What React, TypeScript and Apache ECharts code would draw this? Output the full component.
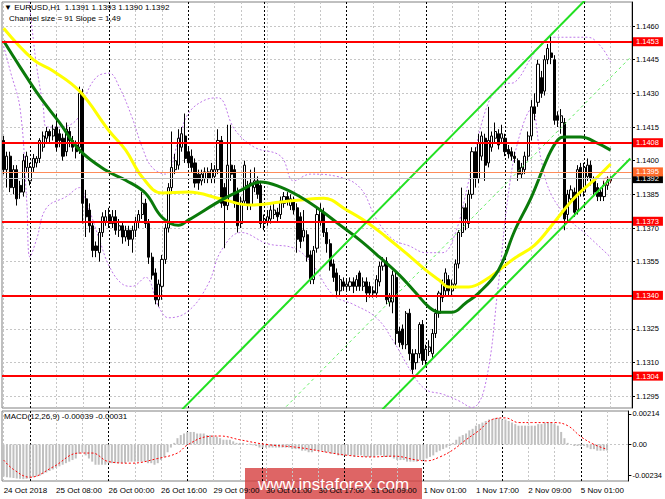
import React, { useEffect, useRef } from "react";
import * as echarts from "echarts";

// ---------- data ----------
const BAR_SLOTS = 191; // bars plus empty right margin (chart shift)
const CATEGORIES = Array.from({ length: BAR_SLOTS }, (_, i) => String(i));

const X_TICK_INDEX = [0, 16, 32, 48, 64, 80, 96, 112, 128, 144, 160, 176];
const X_TICK_TEXT = [
  "24 Oct 2018", "25 Oct 08:00", "26 Oct 00:00", "26 Oct 16:00", "29 Oct 09:00", "30 Oct 01:00",
  "30 Oct 17:00", "31 Oct 09:00", "1 Nov 01:00", "1 Nov 17:00", "2 Nov 09:00", "5 Nov 01:00",
];
const GRID_COLS = [0, 8, 16, 24, 32, 40, 48, 56, 64, 72, 80, 88, 96, 104, 112, 120, 128, 136, 144, 152, 160, 168, 176, 184];
const DAY_SEPARATORS = [8, 32, 56, 79, 104, 128, 152, 176];

const Y_MIN = 1.12898;
const Y_MAX = 1.14707;
const PRICE_TICKS = [1.1295, 1.131, 1.1325, 1.134, 1.1355, 1.137, 1.1385, 1.14, 1.1415, 1.143, 1.1445, 1.146];
const LEVELS = [1.1453, 1.1408, 1.1373, 1.134, 1.1304];
const ASK = 1.1395;
const BID = 1.1392;

// [open, close, low, high]
const CANDLES = [
  [1.1409, 1.1396, 1.1394, 1.1411], [1.1396, 1.1402, 1.1388, 1.1404], [1.1402, 1.1388, 1.1386, 1.1404], [1.1388, 1.1396, 1.1385, 1.1398],
  [1.1396, 1.1383, 1.138, 1.1398], [1.1389, 1.1386, 1.1383, 1.1391], [1.1386, 1.14, 1.1384, 1.1403], [1.1397, 1.1402, 1.1395, 1.1404],
  [1.1391, 1.1397, 1.1389, 1.1399], [1.1397, 1.1401, 1.1395, 1.1403], [1.1399, 1.1401, 1.1397, 1.1402], [1.1401, 1.1409, 1.1399, 1.141],
  [1.1406, 1.1411, 1.1404, 1.1413], [1.141, 1.1413, 1.1408, 1.1415], [1.1413, 1.1411, 1.1408, 1.1414], [1.1411, 1.1414, 1.1409, 1.1416],
  [1.1415, 1.1406, 1.1404, 1.1421], [1.1412, 1.1409, 1.1406, 1.1414], [1.141, 1.1402, 1.14, 1.1412], [1.1404, 1.1414, 1.1402, 1.1417],
  [1.1413, 1.1409, 1.1406, 1.1415], [1.1409, 1.1406, 1.1404, 1.1411], [1.1407, 1.1404, 1.1401, 1.1409], [1.1406, 1.143, 1.1403, 1.1433],
  [1.143, 1.1381, 1.1372, 1.1432], [1.1383, 1.1375, 1.1366, 1.1387], [1.1378, 1.1371, 1.1368, 1.1381], [1.1371, 1.136, 1.1357, 1.1373],
  [1.1362, 1.136, 1.1357, 1.1364], [1.1359, 1.1368, 1.1355, 1.137], [1.1368, 1.1375, 1.1366, 1.1377], [1.1373, 1.1375, 1.1371, 1.1378],
  [1.1376, 1.1372, 1.137, 1.1379], [1.1372, 1.1375, 1.137, 1.1378], [1.1375, 1.1369, 1.1367, 1.1378], [1.1369, 1.1371, 1.1366, 1.1374],
  [1.1371, 1.1366, 1.1363, 1.1373], [1.1366, 1.1369, 1.1364, 1.1371], [1.1369, 1.1365, 1.1362, 1.1371], [1.1365, 1.1369, 1.1359, 1.1371],
  [1.1369, 1.1373, 1.1366, 1.1375], [1.1373, 1.1376, 1.137, 1.1378], [1.1376, 1.1381, 1.1374, 1.1386], [1.1381, 1.1372, 1.137, 1.1383],
  [1.1372, 1.1357, 1.1354, 1.1374], [1.1357, 1.1349, 1.1347, 1.1359], [1.135, 1.1338, 1.1336, 1.1352], [1.1338, 1.1345, 1.1335, 1.1347],
  [1.1344, 1.1356, 1.1338, 1.1358], [1.1356, 1.137, 1.1354, 1.1372], [1.137, 1.1388, 1.1368, 1.139], [1.1388, 1.1397, 1.1386, 1.1413],
  [1.1396, 1.14, 1.1394, 1.1403], [1.1398, 1.141, 1.1396, 1.1414], [1.1406, 1.1412, 1.1404, 1.1415], [1.1411, 1.1401, 1.1399, 1.1421],
  [1.1404, 1.1399, 1.1397, 1.1406], [1.1402, 1.1397, 1.1395, 1.1405], [1.1399, 1.139, 1.1388, 1.1401], [1.1394, 1.139, 1.1387, 1.1396],
  [1.1391, 1.1394, 1.1389, 1.1396], [1.1392, 1.1395, 1.139, 1.1397], [1.1395, 1.1392, 1.139, 1.1397], [1.1392, 1.1396, 1.139, 1.1399],
  [1.1393, 1.1396, 1.139, 1.1398], [1.1396, 1.1409, 1.1394, 1.1414], [1.1409, 1.1381, 1.1379, 1.1411], [1.1388, 1.138, 1.1361, 1.139],
  [1.138, 1.1398, 1.1378, 1.1416], [1.1398, 1.1394, 1.1391, 1.1416], [1.1396, 1.1381, 1.1379, 1.1398], [1.1386, 1.1371, 1.1368, 1.1388],
  [1.1372, 1.1382, 1.137, 1.1384], [1.1382, 1.1398, 1.138, 1.14], [1.1389, 1.138, 1.1378, 1.1391], [1.138, 1.139, 1.1378, 1.1396],
  [1.1388, 1.1391, 1.1386, 1.1397], [1.1391, 1.1385, 1.1383, 1.1393], [1.1389, 1.1372, 1.137, 1.1391], [1.1372, 1.1374, 1.1369, 1.1376],
  [1.1373, 1.1375, 1.1371, 1.1378], [1.1374, 1.1378, 1.1372, 1.138], [1.1376, 1.1378, 1.1374, 1.1381], [1.1377, 1.1375, 1.1373, 1.1379],
  [1.1376, 1.1382, 1.1374, 1.1384], [1.1381, 1.1384, 1.1379, 1.1386], [1.1384, 1.1382, 1.138, 1.1386], [1.138, 1.1383, 1.1378, 1.1385],
  [1.1382, 1.1378, 1.1376, 1.1384], [1.1379, 1.1365, 1.1359, 1.1381], [1.1375, 1.1364, 1.1361, 1.1377], [1.1366, 1.1369, 1.1364, 1.1378],
  [1.1367, 1.1357, 1.1355, 1.1369], [1.1358, 1.1347, 1.1345, 1.136], [1.1347, 1.136, 1.1345, 1.1362], [1.1361, 1.1376, 1.1359, 1.1379],
  [1.1373, 1.1378, 1.1371, 1.1381], [1.1377, 1.1368, 1.1366, 1.1379], [1.1368, 1.1363, 1.1359, 1.137], [1.1363, 1.1353, 1.1351, 1.1365],
  [1.1354, 1.1348, 1.1346, 1.1356], [1.135, 1.1342, 1.134, 1.1352], [1.1342, 1.1347, 1.134, 1.1349], [1.1346, 1.1344, 1.1342, 1.1348],
  [1.1344, 1.1345, 1.1342, 1.1347], [1.1344, 1.1346, 1.1342, 1.1348], [1.1346, 1.1344, 1.1341, 1.1348], [1.1344, 1.1347, 1.1342, 1.1349],
  [1.135, 1.1344, 1.1342, 1.1351], [1.1344, 1.1346, 1.1342, 1.1348], [1.1346, 1.1341, 1.1337, 1.1348], [1.1344, 1.1341, 1.1339, 1.1346],
  [1.1342, 1.1341, 1.1339, 1.1344], [1.1341, 1.1347, 1.1339, 1.1349], [1.1346, 1.1353, 1.1344, 1.1355], [1.1353, 1.1355, 1.1351, 1.1357],
  [1.1355, 1.1338, 1.1336, 1.1357], [1.1337, 1.1339, 1.1335, 1.1341], [1.1337, 1.1349, 1.1332, 1.1351], [1.1348, 1.1323, 1.1318, 1.135],
  [1.1324, 1.1319, 1.1317, 1.1326], [1.1325, 1.1318, 1.1316, 1.1327], [1.1318, 1.1332, 1.1316, 1.1333], [1.1332, 1.1314, 1.1311, 1.1334],
  [1.1314, 1.1307, 1.1305, 1.1316], [1.131, 1.1314, 1.1307, 1.1316], [1.1314, 1.1327, 1.1312, 1.1328], [1.1327, 1.1311, 1.1309, 1.1329],
  [1.1311, 1.1316, 1.1308, 1.1318], [1.1315, 1.1317, 1.1313, 1.132], [1.1314, 1.1323, 1.1312, 1.1325], [1.1323, 1.1332, 1.1321, 1.1334],
  [1.1332, 1.1341, 1.133, 1.1342], [1.1339, 1.1345, 1.1337, 1.1347], [1.1342, 1.135, 1.134, 1.1352], [1.1347, 1.1342, 1.134, 1.1349],
  [1.1342, 1.1345, 1.134, 1.1347], [1.1345, 1.1354, 1.1343, 1.1356], [1.1354, 1.1368, 1.1352, 1.1369], [1.1368, 1.1379, 1.1366, 1.1388],
  [1.1379, 1.1374, 1.1369, 1.1381], [1.1372, 1.1385, 1.137, 1.1387], [1.1385, 1.1404, 1.1383, 1.1406], [1.1404, 1.1392, 1.1388, 1.1406],
  [1.1392, 1.1408, 1.139, 1.1412], [1.1402, 1.1411, 1.14, 1.1413], [1.141, 1.1398, 1.1391, 1.1412], [1.1399, 1.1409, 1.1397, 1.1424],
  [1.1406, 1.1411, 1.1404, 1.1413], [1.141, 1.1413, 1.1408, 1.1417], [1.1412, 1.1407, 1.1405, 1.1414], [1.141, 1.1412, 1.1408, 1.1416],
  [1.141, 1.1404, 1.1402, 1.1412], [1.1405, 1.1403, 1.1401, 1.1407], [1.1404, 1.1402, 1.14, 1.1406], [1.1402, 1.1401, 1.1399, 1.1404],
  [1.14, 1.1394, 1.1391, 1.1401], [1.1394, 1.1397, 1.1392, 1.1399], [1.1396, 1.1402, 1.1394, 1.1404], [1.1402, 1.1411, 1.14, 1.1413],
  [1.1411, 1.1424, 1.1409, 1.1427], [1.1424, 1.1421, 1.1418, 1.143], [1.1426, 1.1443, 1.1424, 1.1445], [1.1437, 1.143, 1.1428, 1.144],
  [1.1431, 1.1445, 1.1429, 1.1447], [1.1445, 1.145, 1.1443, 1.1452], [1.1448, 1.1446, 1.1443, 1.1456], [1.1445, 1.1418, 1.1416, 1.1447],
  [1.142, 1.1418, 1.1415, 1.1422], [1.1417, 1.142, 1.1412, 1.1423], [1.1417, 1.1374, 1.1369, 1.1419], [1.1376, 1.1385, 1.1373, 1.1387],
  [1.1383, 1.1387, 1.1381, 1.1389], [1.1386, 1.1377, 1.1375, 1.1388], [1.1378, 1.1396, 1.1376, 1.1398], [1.1397, 1.1386, 1.1384, 1.1399],
  [1.1386, 1.1397, 1.1384, 1.1399], [1.1393, 1.1398, 1.1391, 1.1401], [1.1398, 1.1392, 1.1389, 1.14], [1.1391, 1.1386, 1.1384, 1.1393],
  [1.1388, 1.1384, 1.1382, 1.139], [1.1386, 1.1384, 1.1382, 1.1388], [1.1384, 1.1389, 1.1382, 1.1391], [1.1389, 1.1391, 1.1387, 1.1393],
  [1.1391, 1.1392, 1.139, 1.1393],
];

// moving averages, read at points along the curves: [bar index, price]
const YELLOW_MA = [
  [0, 1.1459], [9, 1.1445], [15, 1.144], [23, 1.1431], [32, 1.14132], [37, 1.14047], [42, 1.13927], [48, 1.13856],
  [56, 1.1386], [66, 1.13829], [75, 1.13802], [84, 1.13816], [90, 1.13825], [97, 1.13833], [104, 1.1378], [110, 1.13727],
  [116, 1.1366], [122, 1.13588], [128, 1.13512], [132, 1.13468], [135, 1.13437], [141, 1.13437], [146, 1.13468],
  [155, 1.13566], [161, 1.13624], [167, 1.13727], [173, 1.13834], [180, 1.13927], [184, 1.13985],
];
const GREEN_MA = [
  [0, 1.14533], [5, 1.14417], [11, 1.14284], [17, 1.14168], [23, 1.14047], [31, 1.13957], [37, 1.13913], [43, 1.13855],
  [48, 1.13748], [53, 1.13712], [56, 1.13735], [66, 1.13824], [72, 1.13869], [78, 1.13905], [84, 1.13882], [90, 1.13838],
  [96, 1.1378], [102, 1.13713], [108, 1.13646], [114, 1.1357], [120, 1.1349], [125, 1.1341], [129, 1.13347], [132, 1.13325],
  [136, 1.13325], [140, 1.13365], [144, 1.1341], [150, 1.13512], [155, 1.1369], [160, 1.13838], [165, 1.14016],
  [168, 1.14092], [170, 1.14105], [175, 1.14105], [180, 1.14078], [184, 1.14047],
];
const UPPER_BAND = [
  [7, 1.148], [9, 1.1454], [10, 1.1442], [12, 1.1424], [13, 1.1415], [17, 1.1415], [22, 1.1418], [24, 1.1426], [28, 1.1437],
  [32, 1.1439], [35, 1.1433], [39, 1.1419], [42, 1.1406], [45, 1.1397], [49, 1.1394], [53, 1.1409], [56, 1.1421],
  [61, 1.1427], [65, 1.1428], [70, 1.1414], [76, 1.1406], [84, 1.1402], [88, 1.1391], [93, 1.1394], [101, 1.1393],
  [108, 1.1388], [113, 1.1374], [118, 1.1365], [123, 1.1362], [128, 1.1359], [133, 1.1359], [137, 1.1368],
  [141, 1.1391], [147, 1.1426], [152, 1.1434], [155, 1.1435], [160, 1.1446], [163, 1.1452], [167, 1.1455], [177, 1.1455],
  [181, 1.1451], [184, 1.1444],
];
const LOWER_BAND = [
  [0, 1.1451], [2, 1.144], [5, 1.1423], [7, 1.1382], [8, 1.1357], [10, 1.1365], [13, 1.1379], [19, 1.1384],
  [23, 1.1388], [25, 1.1382], [29, 1.1365], [32, 1.1353], [36, 1.1345], [39, 1.1344], [43, 1.1348], [47, 1.1335],
  [50, 1.133], [56, 1.1333], [62, 1.1345], [66, 1.136], [72, 1.1368], [80, 1.1363], [88, 1.1361], [93, 1.1355],
  [100, 1.134], [106, 1.1336], [113, 1.133], [118, 1.132], [124, 1.1305], [128, 1.1298], [133, 1.1296],
  [138, 1.1293], [142, 1.129], [146, 1.13], [150, 1.1345], [153, 1.1385], [156, 1.1409], [160, 1.1423],
  [163, 1.14], [166, 1.1385], [172, 1.1373], [176, 1.1368], [184, 1.1357],
];

// regression channel lines (end points)
const CHANNEL_UPPER = [[50, 1.1283], [190, 1.1492]];
const CHANNEL_MIDDLE = [[78, 1.1279], [190, 1.1446]];
const CHANNEL_LOWER = [[110, 1.1282], [190, 1.1401]];
const MARKER_POINT = [[183, 1.1391]];

// MACD(12,26,9): main values (histogram) per bar and signal line points
const MACD_MIN = -0.00234;
const MACD_MAX = 0.00214;
const MACD_HIST = [
  -0.00205, -0.0021, -0.00212, -0.00215, -0.00218, -0.0022, -0.00222, -0.0022, -0.00218, -0.0021,
  -0.00205, -0.002, -0.0019, -0.0018, -0.0017, -0.0016, -0.0015, -0.0014, -0.0013, -0.0012,
  -0.0011, -0.001, -0.0009, -0.0006, -0.0005, -0.0007, -0.0009, -0.0011, -0.0013, -0.0013,
  -0.0013, -0.0013, -0.0012, -0.0012, -0.0012, -0.0012, -0.0012, -0.0012, -0.0011, -0.0011,
  -0.0011, -0.0011, -0.0011, -0.0011, -0.0012, -0.0012, -0.0013, -0.0012, -0.001, -0.0008,
  -0.0005, -0.0002, 0.0001, 0.0004, 0.0006, 0.0007, 0.0008, 0.0008, 0.0008, 0.0007,
  0.0007, 0.0007, 0.0006, 0.0006, 0.0005, 0.0005, 0.0004, 0.0003, 0.0003, 0.0003,
  0.0002, 0.0001, 0.0001, 0.0001, 0.0, 0.00005, -0.00005, -0.0001, -0.0002, -0.0002,
  -0.0002, -0.0002, -0.0002, -0.0002, -0.0002, -0.0002, -0.0002, -0.0002, -0.0003, -0.0003,
  -0.0003, -0.0004, -0.0004, -0.0005, -0.0005, -0.0004, -0.0004, -0.0004, -0.0005, -0.0005,
  -0.0006, -0.0006, -0.0007, -0.0007, -0.0007, -0.0007, -0.0007, -0.0008, -0.0007, -0.0007,
  -0.0008, -0.0008, -0.0008, -0.0008, -0.0007, -0.0007, -0.0008, -0.0008, -0.0008, -0.0009,
  -0.001, -0.001, -0.001, -0.0011, -0.0011, -0.0011, -0.0011, -0.001, -0.001, -0.0009,
  -0.0008, -0.0007, -0.0005, -0.0004, -0.0003, -0.0002, -0.0001, 0.0001, 0.0003, 0.0005,
  0.0006, 0.0007, 0.0009, 0.001, 0.0012, 0.0013, 0.0014, 0.0015, 0.0016, 0.0016,
  0.0017, 0.0017, 0.0016, 0.0016, 0.0015, 0.0014, 0.0013, 0.0012, 0.0012, 0.0012,
  0.0012, 0.0012, 0.0012, 0.0013, 0.0013, 0.0014, 0.0014, 0.0014, 0.0013, 0.0012,
  0.0008, 0.0004, 0.0001, 0.0, -0.0001, -0.0001, -0.0001, -0.0001, -0.0002, -0.0003,
  -0.0003, -0.0004, -0.0004, -0.0004, -0.00039,
];
const MACD_SIGNAL = [
  [0, -0.001], [3, -0.0016], [8, -0.0021], [15, -0.00145], [23, -0.00055], [27, -0.00055], [32, -0.0011],
  [39, -0.0012], [47, -0.0009], [53, -0.00055], [56, -0.00004], [62, 0.0005], [66, 0.00054], [72, 0.0003],
  [80, 0.0], [90, -0.0002], [100, -0.00055], [105, -0.0007], [112, -0.0008], [119, -0.00075], [126, -0.001],
  [129, -0.00105], [133, -0.0008], [137, -0.00035], [141, 0.0003], [145, 0.0009], [149, 0.0016], [153, 0.0017],
  [157, 0.0014], [161, 0.0014], [168, 0.0014], [172, 0.0012], [176, 0.0005], [180, 0.0], [184, -0.00031],
];
const MACD_LABEL_POS = [0.00195, 0, -0.00196];
const MACD_LABEL_TEXT = ["0.00214", "0.00", "-0.00234"];

const HEADER = "\u25BC EURUSD,H1  1.1391 1.1393 1.1390 1.1392";
const SUBHEADER = "Channel size = 91 Slope = 1,49";
const MACD_TITLE = "MACD(12,26,9) -0.00039 -0.00031";
const WATERMARK = "www.instaforex.com";

const FONT = '"Liberation Sans", Arial, sans-serif';

export default function App() {
  const ref = useRef<HTMLDivElement>(null);

  useEffect(() => {
    if (!ref.current) return;
    const chart = echarts.init(ref.current, undefined, { renderer: "svg" });

    const gridGray = { color: "#c6c6c6", type: [2, 2] as any, width: 1 };
    const sepBlack = { color: "#000000", type: [2, 2] as any, width: 1 };

    const vLines = (idx: number[], style: any) =>
      idx.map((i) => ({ xAxis: i, lineStyle: style }));

    const levelLabel = (bg: string) => ({
      show: true,
      position: "end",
      distance: 1,
      formatter: (p: any) => Number(p.value).toFixed(4),
      color: "#ffffff",
      backgroundColor: bg,
      padding: [1, 4, 0, 3],
      fontSize: 7.5,
      fontFamily: FONT,
    });

    const option: any = {
      animation: false,
      backgroundColor: "#ffffff",
      textStyle: { fontFamily: FONT },
      grid: [
        { left: 2, top: 2, width: 630, height: 406, show: true, borderColor: "#808080", borderWidth: 1 },
        { left: 2, top: 411, width: 630, height: 70, show: true, borderColor: "#808080", borderWidth: 1 },
      ],
      xAxis: [
        {
          type: "category", gridIndex: 0, data: CATEGORIES, boundaryGap: true,
          axisLine: { show: false }, axisTick: { show: false }, axisLabel: { show: false }, splitLine: { show: false },
        },
        {
          type: "category", gridIndex: 1, data: CATEGORIES, boundaryGap: true,
          axisLine: { show: false }, axisTick: { show: false }, splitLine: { show: false },
          axisLabel: {
            show: true,
            interval: (i: number) => X_TICK_INDEX.includes(i),
            formatter: (_v: string, i: number) => {
              const k = X_TICK_INDEX.indexOf(i);
              return k >= 0 ? X_TICK_TEXT[k] : "";
            },
            align: "left", color: "#000", fontSize: 8, margin: 5, fontFamily: FONT,
          },
        },
      ],
      yAxis: [
        {
          type: "value", gridIndex: 0, position: "right", min: Y_MIN, max: Y_MAX,
          axisLine: { show: true, lineStyle: { color: "#000", width: 1 } },
          axisTick: { show: true, length: 3, customValues: PRICE_TICKS, lineStyle: { color: "#000" } },
          axisLabel: { customValues: PRICE_TICKS, formatter: (v: number) => v.toFixed(4), color: "#000", fontSize: 7.5, margin: 4, fontFamily: FONT },
          splitLine: { show: false },
        },
        {
          type: "value", gridIndex: 1, position: "right", min: MACD_MIN, max: MACD_MAX,
          axisLine: { show: true, lineStyle: { color: "#000", width: 1 } },
          axisTick: { show: true, length: 3, customValues: MACD_LABEL_POS, lineStyle: { color: "#000" } },
          axisLabel: {
            customValues: MACD_LABEL_POS,
            formatter: (v: number) => {
              const k = MACD_LABEL_POS.findIndex((p) => Math.abs(p - v) < 1e-7);
              return k >= 0 ? MACD_LABEL_TEXT[k] : "";
            },
            color: "#000", fontSize: 7.5, margin: 4, fontFamily: FONT,
          },
          splitLine: { show: false },
        },
      ],
      series: [
        // grid lines, main panel
        {
          type: "line", xAxisIndex: 0, yAxisIndex: 0, data: [], silent: true,
          markLine: {
            z: 1, silent: true, precision: 6, symbol: ["none", "none"], label: { show: false },
            data: [
              ...PRICE_TICKS.map((v) => ({ yAxis: v, lineStyle: gridGray })),
              ...vLines(GRID_COLS, gridGray),
              ...vLines(DAY_SEPARATORS, sepBlack),
            ],
          },
        },
        // grid lines, MACD panel
        {
          type: "line", xAxisIndex: 1, yAxisIndex: 1, data: [], silent: true,
          markLine: {
            z: 1, silent: true, precision: 6, symbol: ["none", "none"], label: { show: false },
            data: [
              { yAxis: 0, lineStyle: gridGray },
              ...vLines(GRID_COLS, gridGray),
              ...vLines(DAY_SEPARATORS, sepBlack),
            ],
          },
        },
        // envelopes / bands
        {
          type: "line", xAxisIndex: 0, yAxisIndex: 0, data: UPPER_BAND, smooth: 0.4, showSymbol: false, silent: true, z: 2,
          lineStyle: { color: "#bf78e8", width: 1, type: [2, 2] },
        },
        {
          type: "line", xAxisIndex: 0, yAxisIndex: 0, data: LOWER_BAND, smooth: 0.4, showSymbol: false, silent: true, z: 2,
          lineStyle: { color: "#bf78e8", width: 1, type: [2, 2] },
        },
        // candles
        {
          type: "candlestick", xAxisIndex: 0, yAxisIndex: 0, data: CANDLES, barWidth: 2.6, silent: true, z: 3,
          itemStyle: { color: "#ffffff", color0: "#000000", borderColor: "#000000", borderColor0: "#000000", borderWidth: 1 },
        },
        // moving averages
        {
          type: "line", xAxisIndex: 0, yAxisIndex: 0, data: YELLOW_MA, smooth: 0.4, showSymbol: false, silent: true, z: 4,
          lineStyle: { color: "#ffff00", width: 3 },
        },
        {
          type: "line", xAxisIndex: 0, yAxisIndex: 0, data: GREEN_MA, smooth: 0.4, showSymbol: false, silent: true, z: 4,
          lineStyle: { color: "#0a7a0a", width: 3 },
        },
        // channel
        {
          type: "line", xAxisIndex: 0, yAxisIndex: 0, data: CHANNEL_UPPER, showSymbol: false, silent: true, z: 5,
          lineStyle: { color: "#22e022", width: 2 },
        },
        {
          type: "line", xAxisIndex: 0, yAxisIndex: 0, data: CHANNEL_LOWER, showSymbol: false, silent: true, z: 5,
          lineStyle: { color: "#22e022", width: 2 },
        },
        {
          type: "line", xAxisIndex: 0, yAxisIndex: 0, data: CHANNEL_MIDDLE, showSymbol: false, silent: true, z: 5,
          lineStyle: { color: "#66ee66", width: 1, type: [3, 3] },
        },
        // horizontal levels with price tags
        {
          type: "line", xAxisIndex: 0, yAxisIndex: 0, data: [], silent: true,
          markLine: {
            z: 6, silent: true, precision: 6, symbol: ["none", "none"],
            data: [
              { yAxis: BID, lineStyle: { color: "#c0c0c0", width: 1, type: "solid" }, label: levelLabel("#000000") },
              { yAxis: ASK, lineStyle: { color: "#ff8c5a", width: 1, type: "solid" }, label: levelLabel("#ff6a2a") },
              ...LEVELS.map((v) => ({ yAxis: v, lineStyle: { color: "#ff0000", width: 2, type: "solid" }, label: levelLabel("#ff0000") })),
            ],
          },
        },
        {
          type: "scatter", xAxisIndex: 0, yAxisIndex: 0, data: MARKER_POINT, symbol: "circle", symbolSize: 7, silent: true, z: 6,
          itemStyle: { color: "rgba(0,0,0,0)", borderColor: "#ff5050", borderWidth: 1, borderType: "dotted" },
        },
        // MACD
        {
          type: "bar", xAxisIndex: 1, yAxisIndex: 1, data: MACD_HIST, barWidth: 2, silent: true, z: 2,
          itemStyle: { color: "#c0c0c0" },
        },
        {
          type: "line", xAxisIndex: 1, yAxisIndex: 1, data: MACD_SIGNAL, smooth: 0.4, showSymbol: false, silent: true, z: 3,
          lineStyle: { color: "#ff0000", width: 1, type: [2, 2] },
        },
      ],
      graphic: [
        { type: "text", left: 4, top: 3, z: 10, style: { text: HEADER, fill: "#000", fontSize: 8, fontFamily: FONT } },
        { type: "text", left: 9, top: 14, z: 10, style: { text: SUBHEADER, fill: "#000", fontSize: 8, fontFamily: FONT } },
        { type: "text", left: 4, top: 412, z: 10, style: { text: MACD_TITLE, fill: "#000", fontSize: 8, fontFamily: FONT } },
        {
          type: "group", left: 245, top: 468, z: 20,
          children: [
            { type: "rect", shape: { x: 0, y: 0, width: 177, height: 31 }, style: { fill: "rgba(214,62,62,0.8)" } },
            {
              type: "text", x: 88.5, y: 16,
              style: { text: WATERMARK, fill: "#ffffff", fontSize: 17, fontFamily: FONT, align: "center", verticalAlign: "middle" },
            },
          ],
        },
      ],
    };

    chart.setOption(option);
    return () => chart.dispose();
  }, []);

  return <div ref={ref} style={{ position: "absolute", left: 0, top: 0, width: 665, height: 499 }} />;
}
